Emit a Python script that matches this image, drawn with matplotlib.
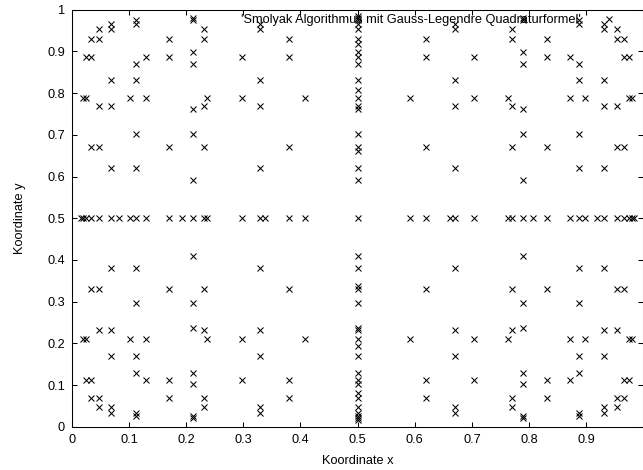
import matplotlib
matplotlib.use("Agg")
import matplotlib.pyplot as plt

# 1D Gauss-Legendre nodes on [0,1] (per number of points)
nodes_1 = [0.5]
nodes_2 = [0.2113, 0.7887]
nodes_3 = [0.1127, 0.5, 0.8873]
nodes_4 = [0.0694, 0.3300, 0.6700, 0.9306]
nodes_5 = [0.0469, 0.2308, 0.5, 0.7692, 0.9531]
nodes_6 = [0.0338, 0.1694, 0.3807, 0.6193, 0.8306, 0.9662]
nodes_7 = [0.0254, 0.1292, 0.2971, 0.5, 0.7029, 0.8708, 0.9746]
nodes_8 = [0.0199, 0.1017, 0.2372, 0.4083, 0.5917, 0.7628, 0.8983, 0.9801]
nodes_9 = [0.0159, 0.0820, 0.1933, 0.3379, 0.5, 0.6621, 0.8067, 0.9180, 0.9841]

# Smolyak combination: (points in x, points in y) for each tensor grid
grid_nx = [1, 1, 2, 2, 3, 3, 4, 4, 5, 5, 6, 6, 7, 7, 8, 8, 9]
grid_ny = [8, 9, 7, 8, 6, 7, 5, 6, 4, 5, 3, 4, 2, 3, 1, 2, 1]

x_ticks = [0, 0.1, 0.2, 0.3, 0.4, 0.5, 0.6, 0.7, 0.8, 0.9]
x_tick_labels = ["0", "0.1", "0.2", "0.3", "0.4", "0.5", "0.6", "0.7", "0.8", "0.9"]
y_ticks = [0, 0.1, 0.2, 0.3, 0.4, 0.5, 0.6, 0.7, 0.8, 0.9, 1.0]
y_tick_labels = ["0", "0.1", "0.2", "0.3", "0.4", "0.5", "0.6", "0.7", "0.8", "0.9", "1"]

rules = {1: nodes_1, 2: nodes_2, 3: nodes_3, 4: nodes_4, 5: nodes_5,
         6: nodes_6, 7: nodes_7, 8: nodes_8, 9: nodes_9}

pts = set()
for nx, ny in zip(grid_nx, grid_ny):
    for xv in rules[nx]:
        for yv in rules[ny]:
            pts.add((xv, yv))
pts = sorted(pts)
xs = [p[0] for p in pts]
ys = [p[1] for p in pts]

plt.rcParams['font.family'] = ['Liberation Sans', 'DejaVu Sans']
W, H = 643, 470
fig = plt.figure(figsize=(W / 100, H / 100), dpi=100)
ax = fig.add_axes([71.7 / W, 1 - 426.7 / H, (643.5 - 71.7) / W, (426.7 - 9.7) / H])

ax.plot(xs, ys, linestyle='none', marker='x', markersize=4.4, markeredgewidth=0.75,
        color='black', label="'Smolyak Algorithmus mit Gauss-Legendre Quadraturformel'",
        clip_on=False)

ax.set_xlim(0, 1)
ax.set_ylim(0, 1)
ax.set_xticks(x_ticks)
ax.set_xticklabels(x_tick_labels)
ax.set_yticks(y_ticks)
ax.set_yticklabels(y_tick_labels)
ax.tick_params(direction='in', length=3.6, width=0.75, labelsize=9.2, top=True, right=True,
               colors='black')
ax.tick_params(axis='y', pad=5)
ax.tick_params(axis='x', pad=5.5)
for s in ax.spines.values():
    s.set_linewidth(0.75)

ax.set_xlabel("Koordinate x", fontsize=9.2, labelpad=6)
ax.set_ylabel("Koordinate y", fontsize=9.2, labelpad=15)

leg = ax.legend(loc='upper right', bbox_to_anchor=(621.5 / W, 1 - 14 / H),
                bbox_transform=fig.transFigure, borderpad=0, borderaxespad=0,
                handlelength=2.0, handletextpad=1.16, markerfirst=False,
                frameon=False, fontsize=9.2)

fig.savefig("out.png", dpi=100)
